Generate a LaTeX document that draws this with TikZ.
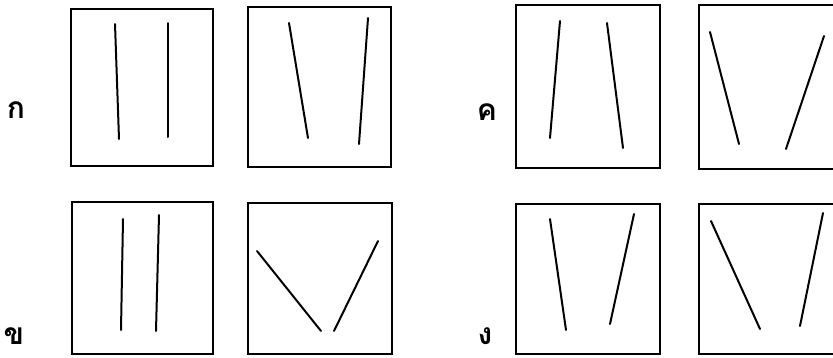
\documentclass[tikz,border=0pt]{standalone}
\usepackage{fontspec}
\newfontfamily\thaifont[Script=Thai]{Loma}
\begin{document}
\begin{tikzpicture}[x=1pt,y=-1pt,
  frame/.style={line width=1.9pt},
  stroke/.style={line width=2pt,line cap=round},
  lab/.style={font=\thaifont\bfseries\fontsize{30}{34}\selectfont,inner sep=0pt,
    text depth=0pt,text height=16pt,anchor=base}]
\useasboundingbox (0,0) rectangle (833,357);
% labels
\node[lab] (ka) at (16,118) {ก};
\node[lab] (kho) at (14,344) {ข};
\node[lab] (kho2) at (487,120) {ค};
\node[lab] (ngo) at (485,344) {ง};
% row 1, left pair
\draw[frame] (71,9) rectangle (213,166);
\draw[stroke] (115,24) -- (119,139);
\draw[stroke] (168,23) -- (168,137);
\draw[frame] (248,7) rectangle (391,167);
\draw[stroke] (289,23) -- (308,138);
\draw[stroke] (368,18) -- (359,144);
% row 1, right pair
\draw[frame] (516,5) rectangle (660,168);
\draw[stroke] (560,21) -- (550,138);
\draw[stroke] (607,23) -- (623,148);
\draw[frame] (699,5) rectangle (840,169);
\draw[stroke] (710,32) -- (739,144);
\draw[stroke] (824,36) -- (786,149);
% row 2, left pair
\draw[frame] (72,202) rectangle (213,354);
\draw[stroke] (123,219) -- (121,330);
\draw[stroke] (159,215) -- (156,331);
\draw[frame] (248,203) rectangle (392,354);
\draw[stroke] (257,251) -- (321,331);
\draw[stroke] (378,241) -- (334,331);
% row 2, right pair
\draw[frame] (516,204) rectangle (660,354);
\draw[stroke] (550,219) -- (566,330);
\draw[stroke] (634,214) -- (610,324);
\draw[frame] (699,204) rectangle (840,354);
\draw[stroke] (711,221) -- (760,329);
\draw[stroke] (823,213) -- (800,326);
\end{tikzpicture}
\end{document}
